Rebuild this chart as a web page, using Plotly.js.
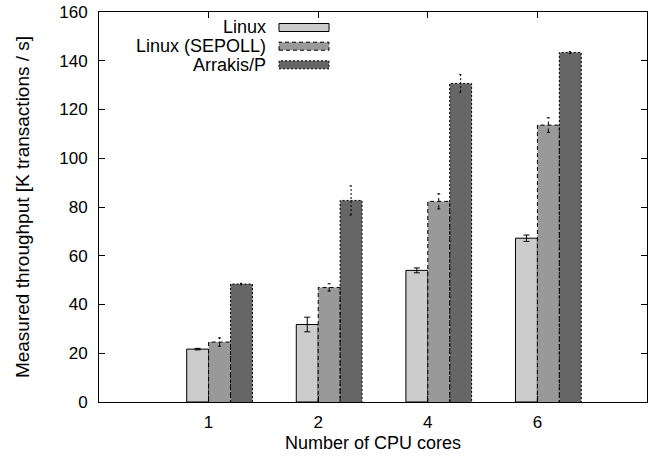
<!DOCTYPE html>
<html>
<head>
<meta charset="utf-8">
<script src="https://cdn.plot.ly/plotly-3.0.1.min.js"></script>
<style>html,body{margin:0;padding:0;background:#fff;}#chart{width:652px;height:459px;}</style>
</head>
<body>
<div id="chart"></div>
<script>
const cores = ['1', '2', '4', '6'];
const seriesNames = ['Linux', 'Linux (SEPOLL)', 'Arrakis/P'];
const linux = [21.7, 31.8, 54.0, 67.2];
const linuxErr = [0.3, 3.0, 1.0, 1.3];
const sepoll = [24.6, 47.0, 82.3, 113.6];
const sepollErr = [1.7, 1.5, 3.1, 3.0];
const arrakis = [48.4, 82.7, 130.7, 143.4];
const arrakisErr = [0.3, 6.0, 3.6, 0.4];
const yTicks = [0, 20, 40, 60, 80, 100, 120, 140, 160];

const values = [linux, sepoll, arrakis];
const errors = [linuxErr, sepollErr, arrakisErr];
const fills = ['#cccccc', '#999999', '#666666'];
const dashes = ['solid', '4px,3px', '2px,2px'];
const W = 0.2;
const offsets = [-0.2, 0, 0.2];
const idx = cores.map((c, i) => i);
const FONT = 'Liberation Sans, Arial, sans-serif';

const traces = [];
values.forEach((vals, s) => {
  traces.push({
    type: 'bar', x: idx, y: vals, width: W, offset: offsets[s],
    marker: {color: fills[s], line: {color: '#000', width: s === 0 ? 1 : 0}},
    error_y: s === 0 ? {type: 'data', array: errors[s], visible: true, color: '#000', thickness: 1, width: 3} : {visible: false},
    showlegend: false, hoverinfo: 'skip'
  });
});
// dashed outlines and dashed error bars for series 2 and 3
[1, 2].forEach(s => {
  const ox = [], oy = [];
  const ex = [], ey = [];
  idx.forEach(i => {
    const x0 = i + offsets[s], x1 = x0 + W, xc = x0 + W / 2;
    const v = values[s][i], e = errors[s][i];
    ox.push(x0, x0, x1, x1, null);
    oy.push(0, v, v, 0, null);
    const cw = 0.014;
    ex.push(xc, xc, null, xc - cw, xc + cw, null, xc - cw, xc + cw, null);
    ey.push(v - e, v + e, null, v - e, v - e, null, v + e, v + e, null);
  });
  traces.push({type: 'scatter', mode: 'lines', x: ox, y: oy, line: {color: '#000', width: 1, dash: dashes[s]}, showlegend: false, hoverinfo: 'skip', connectgaps: false});
  traces.push({type: 'scatter', mode: 'lines', x: ex, y: ey, line: {color: '#000', width: 1, dash: dashes[s]}, showlegend: false, hoverinfo: 'skip', connectgaps: false});
});

// gnuplot-style key: right-aligned text, sample box to the right
const annotations = [];
const shapes = [];
const keyRows = [27.5, 46.2, 64.8];
seriesNames.forEach((name, s) => {
  annotations.push({xref: 'paper', yref: 'paper', x: (267 - 99) / 548, y: (402 - keyRows[s]) / 390, xanchor: 'right', yanchor: 'middle', align: 'right', borderpad: 0, text: name, showarrow: false, font: {family: FONT, size: 18, color: '#000'}});
  shapes.push({type: 'rect', xref: 'paper', yref: 'paper', x0: (279 - 99) / 548, x1: (329 - 99) / 548, y0: (402 - keyRows[s] - 4) / 390, y1: (402 - keyRows[s] + 4) / 390, fillcolor: fills[s], line: {color: '#000', width: 1, dash: s === 0 ? 'solid' : dashes[s]}});
});

const layout = {
  width: 652, height: 459,
  margin: {l: 99, r: 5, t: 12, b: 57},
  paper_bgcolor: '#fff', plot_bgcolor: '#fff',
  font: {family: FONT, size: 17, color: '#000'},
  barmode: 'overlay',
  xaxis: {
    range: [-1, 4], tickmode: 'array', tickvals: idx, ticktext: cores,
    ticks: 'inside', ticklen: 6, tickcolor: '#000', tickwidth: 1,
    showline: true, linecolor: '#000', linewidth: 1, mirror: 'ticks',
    showgrid: false, zeroline: false, fixedrange: true,
    tickfont: {family: FONT, size: 17}, ticklabelstandoff: 5,
    title: {text: 'Number of CPU cores', font: {family: FONT, size: 18}, standoff: 4}
  },
  yaxis: {
    range: [0, 160], tickmode: 'array', tickvals: yTicks,
    ticks: 'inside', ticklen: 6, tickcolor: '#000', tickwidth: 1,
    showline: true, linecolor: '#000', linewidth: 1, mirror: 'ticks',
    showgrid: false, zeroline: false, fixedrange: true,
    tickfont: {family: FONT, size: 17}, ticklabelstandoff: 7,
    title: {text: 'Measured throughput [K transactions / s]', font: {family: FONT, size: 19}, standoff: 24}
  },
  annotations: annotations,
  shapes: shapes
};
Plotly.newPlot('chart', traces, layout, {staticPlot: true, displayModeBar: false});
</script>
</body>
</html>
